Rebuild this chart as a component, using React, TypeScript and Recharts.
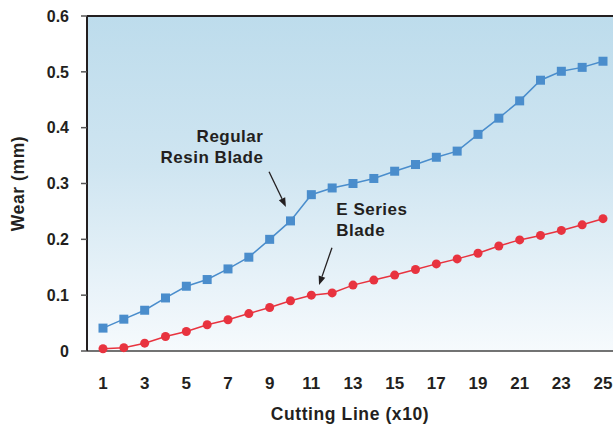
import { LineChart, Line, XAxis, YAxis, ReferenceLine, ReferenceDot, Label, CartesianGrid } from "recharts";

const cuts = [1, 2, 3, 4, 5, 6, 7, 8, 9, 10, 11, 12, 13, 14, 15, 16, 17, 18, 19, 20, 21, 22, 23, 24, 25];
const regularResin = [0.041, 0.057, 0.073, 0.095, 0.116, 0.128, 0.147, 0.168, 0.2, 0.233, 0.28, 0.292, 0.3, 0.309, 0.322, 0.334, 0.347, 0.358, 0.388, 0.417, 0.448, 0.485, 0.501, 0.508, 0.519];
const eSeries = [0.004, 0.006, 0.014, 0.026, 0.035, 0.047, 0.056, 0.067, 0.078, 0.09, 0.1, 0.104, 0.118, 0.127, 0.136, 0.146, 0.156, 0.165, 0.175, 0.188, 0.199, 0.207, 0.216, 0.226, 0.237];
const xTicks = [1, 3, 5, 7, 9, 11, 13, 15, 17, 19, 21, 23, 25];
const yTicks = [0, 0.1, 0.2, 0.3, 0.4, 0.5, 0.6];

const data = cuts.map((c, i) => ({ cut: c, regular: regularResin[i], eseries: eSeries[i] }));

// annotation arrows: [from, to] in data units
const regularArrow = [{ x: 8.97, y: 0.321 }, { x: 9.78, y: 0.258 }];
const eSeriesArrow = [{ x: 11.99, y: 0.185 }, { x: 11.37, y: 0.118 }];

const FONT = "'Liberation Sans', Arial, sans-serif";
const INK = "#231f20";

function Arrow(props: any) {
  const { x1, y1, x2, y2 } = props;
  if ([x1, y1, x2, y2].some((v) => v == null || isNaN(v))) return null;
  const ang = Math.atan2(y2 - y1, x2 - x1);
  const len = 9;
  const w = 3.5;
  const bx = x2 - len * Math.cos(ang);
  const by = y2 - len * Math.sin(ang);
  const px = -Math.sin(ang) * w;
  const py = Math.cos(ang) * w;
  return (
    <g>
      <line x1={x1} y1={y1} x2={bx} y2={by} stroke={INK} strokeWidth={1.3} />
      <polygon points={`${x2},${y2} ${bx + px},${by + py} ${bx - px},${by - py}`} fill={INK} />
    </g>
  );
}

function TextBlock(lines: string[], anchor: "start" | "end") {
  return (props: any) => {
    const { cx, cy } = props;
    return (
      <text x={cx} y={cy} textAnchor={anchor} fontFamily={FONT} fontWeight="bold" fontSize={17} letterSpacing={0.5} fill={INK}>
        {lines.map((l, i) => (
          <tspan key={i} x={cx} dy={i === 0 ? 0 : 21}>
            {l}
          </tspan>
        ))}
      </text>
    );
  };
}

export default function App() {
  return (
    <div style={{ position: "absolute", left: 0, top: 0, width: 613, height: 428, background: "#fff" }}>
      <svg width={0} height={0} style={{ position: "absolute" }}>
        <defs>
          <linearGradient id="bg" x1="0" y1="0" x2="0" y2="1">
            <stop offset="0%" stopColor="#bddcec" />
            <stop offset="45%" stopColor="#cfe5f1" />
            <stop offset="100%" stopColor="#f6fafd" />
          </linearGradient>
        </defs>
      </svg>
      <LineChart width={613} height={428} data={data} margin={{ top: 16, right: 0, bottom: 0, left: 27 }}>
        <CartesianGrid horizontal={false} vertical={false} fill="url(#bg)" />
        <XAxis
          dataKey="cut"
          type="number"
          domain={[1, 25]}
          ticks={xTicks}
          padding={{ left: 16, right: 10 }}
          height={77}
          tickLine={false}
          axisLine={{ stroke: "#444", strokeWidth: 1.5 }}
          tick={{ fill: INK, fontSize: 17, fontWeight: "bold", fontFamily: FONT }}
          tickMargin={20}
          interval={0}
        >
          <Label value="Cutting Line (x10)" position="insideBottom" offset={8} style={{ fill: INK, fontSize: 17.5, fontWeight: "bold", fontFamily: FONT, letterSpacing: 0.6 }} />
        </XAxis>
        <YAxis
          domain={[0, 0.6]}
          ticks={yTicks}
          width={60}
          tickFormatter={(v: number) => (v === 0 ? "0" : v.toFixed(1))}
          axisLine={{ stroke: INK, strokeWidth: 2 }}
          tickLine={{ stroke: "#555", strokeWidth: 1.5 }}
          tickSize={6}
          tick={{ fill: INK, fontSize: 16, fontWeight: "bold", fontFamily: FONT }}
          tickMargin={12}
        >
          <Label value="Wear (mm)" angle={-90} position="insideLeft" offset={-9} style={{ textAnchor: "middle", fill: INK, fontSize: 17.5, fontWeight: "bold", fontFamily: FONT, letterSpacing: 0.6 }} />
        </YAxis>
        <ReferenceLine y={0.6} stroke={INK} strokeWidth={2} />
        <ReferenceLine segment={regularArrow} ifOverflow="visible" shape={Arrow} />
        <ReferenceLine segment={eSeriesArrow} ifOverflow="visible" shape={Arrow} />
        <ReferenceDot x={8.7} y={0.375} r={0} ifOverflow="visible" shape={TextBlock(["Regular", "Resin Blade"], "end")} />
        <ReferenceDot x={12.2} y={0.244} r={0} ifOverflow="visible" shape={TextBlock(["E Series", "Blade"], "start")} />
        <Line
          dataKey="regular"
          stroke="#4a8dcc"
          strokeWidth={1.5}
          isAnimationActive={false}
          dot={(p: any) => <rect key={p.index} x={p.cx - 4.5} y={p.cy - 4.5} width={9} height={9} fill="#4a8dcc" />}
        />
        <Line
          dataKey="eseries"
          stroke="#e8333f"
          strokeWidth={1.5}
          isAnimationActive={false}
          dot={{ r: 4.5, fill: "#e8333f", stroke: "none" }}
        />
      </LineChart>
    </div>
  );
}
